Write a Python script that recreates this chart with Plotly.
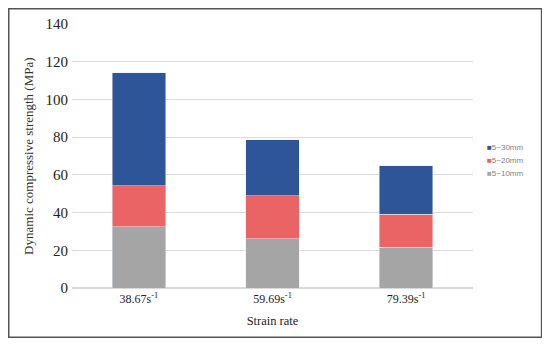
import plotly.graph_objects as go

categories = ["38.67s<sup>-1</sup>", "59.69s<sup>-1</sup>", "79.39s<sup>-1</sup>"]
series_names = ["5~10mm", "5~20mm", "5~30mm"]
s_5_10 = [32.5, 26.0, 21.5]
s_5_20 = [21.7, 23.0, 17.7]
s_5_30 = [60.0, 29.7, 25.5]
colors = ["#A5A5A5", "#EA6465", "#2E5597"]

fig = go.Figure()
for name, vals, col in zip(series_names, [s_5_10, s_5_20, s_5_30], colors):
    fig.add_trace(go.Bar(x=categories, y=vals, name=name, marker_color=col, showlegend=False))

serif = "Liberation Serif, DejaVu Serif, serif"
annotations = []
legend_y = [0.532, 0.483, 0.434]
for i, (name, col) in enumerate(reversed(list(zip(series_names, colors)))):
    annotations.append(dict(
        xref="paper", yref="paper", x=1.03, y=legend_y[i], xanchor="left", yanchor="middle",
        showarrow=False,
        text=f"<span style='color:{col}'>■</span>{name}",
        font=dict(family="Liberation Sans, Arial, sans-serif", size=8, color="#7F7F7F")))
annotations.append(dict(
    xref="paper", yref="paper", x=-0.11, y=0.5, xanchor="center", yanchor="middle",
    showarrow=False, textangle=-90, text="Dynamic compressive strength (MPa)",
    font=dict(family=serif, size=13, color="#333333")))

# page body has an 8px margin; figure is sized/positioned to compensate
fig.update_layout(
    barmode="stack",
    bargap=0.6,
    width=542, height=339,
    margin=dict(l=64, r=77, t=16, b=59, autoexpand=False),
    plot_bgcolor="white", paper_bgcolor="white",
    font=dict(family=serif, color="#222222"),
    showlegend=False,
    annotations=annotations,
    xaxis=dict(title=dict(text="Strain rate", font=dict(size=12.5), standoff=10), automargin=False,
               tickfont=dict(size=12), showline=True, linecolor="#D9D9D9", ticks=""),
    yaxis=dict(automargin=False, ticklabelstandoff=3,
               range=[0, 140], dtick=20, tickfont=dict(size=15), gridcolor="#D9D9D9",
               zeroline=True, zerolinecolor="#D9D9D9", showline=False, ticks=""),
    shapes=[dict(type="rect", xref="paper", yref="paper", x0=-0.1577, x1=1.171, y0=-0.1867, y1=1.0578,
                 line=dict(color="#555555", width=1.5), fillcolor="rgba(0,0,0,0)", layer="below")],
)
fig.write_html("out.html")
